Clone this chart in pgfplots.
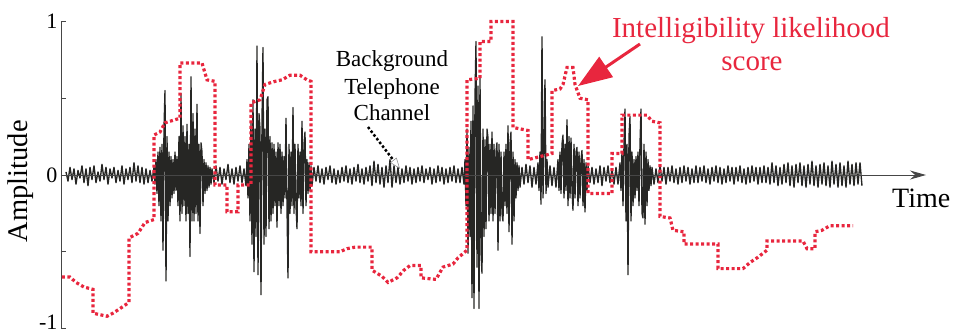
\documentclass[border=0pt]{standalone}
\usepackage{fontspec}
\setmainfont{Liberation Serif}
\usepackage{pgfplots}
\pgfplotsset{compat=1.18}
\usetikzlibrary{arrows.meta}
\definecolor{wave}{RGB}{38,38,36}
\definecolor{score}{RGB}{232,38,62}
\definecolor{axisgray}{RGB}{70,70,70}
\begin{document}
\begin{tikzpicture}
\begin{axis}[
  x=1pt, y=153.5pt, xmin=61, xmax=925, ymin=-1, ymax=1,
  scale only axis, clip=false,
  axis x line=none, axis y line*=left,
  y axis line style={-, draw=axisgray, line width=0.9pt},
  xtick=\empty,
  ytick={-0.5,0,0.5,1},
  yticklabels={,0,,1},
  extra y ticks={-1},
  extra y tick labels={-1},
  extra y tick style={yticklabel style={yshift=6pt}},
  tick align=inside,
  major tick length=5pt,
  ytick style={draw=axisgray, line width=0.9pt},
  yticklabel style={font=\fontsize{22}{22}\selectfont, text=black},
]
% waveform
\addplot[wave, line width=1.35pt, line join=round] coordinates {
(66,0.02)(68,-0.04)(70,0.05)(72,-0.03)(74,0.04)(76,-0.06)(78,0.03)(80,-0.02)(82,0.06)(84,-0.05)
(86,0.04)(88,-0.07)(90,0.05)(92,-0.03)(94,0.06)(96,-0.05)(98,0.02)(100,-0.04)(102,0.07)(104,-0.03)
(106,0.05)(108,-0.06)(110,0.04)(112,-0.02)(114,0.05)(116,-0.05)(118,0.03)(120,-0.04)(122,0.06)(124,-0.06)
(126,0.04)(128,-0.03)(130,0.05)(132,-0.05)(134,0.08)(136,-0.04)(138,0.06)(140,-0.05)(142,0.05)(144,-0.06)
(146,0.04)(148,-0.05)(150,0.03)(152,-0.04)(154,0.05)
(155,-0.06)(156,0.1)(157,-0.12)(158,0.15)(159,-0.2)(160,0.18)(161,-0.3)(162,0.2)(163,-0.49)(164,0.3)
(165,0.55)(166,-0.69)(167,0.25)(168,-0.3)(169,0.15)(170,-0.2)(171,0.12)(172,-0.15)(173,0.1)(174,-0.12)
(175,0.15)(176,-0.1)(177,0.12)(178,-0.2)(179,0.25)(180,-0.3)(181,0.53)(182,-0.25)(183,0.32)(184,-0.2)
(185,0.25)(186,-0.3)(187,0.33)(188,-0.25)(189,0.2)(190,-0.53)(191,0.64)(192,-0.3)(193,0.4)(194,-0.3)
(195,0.3)(196,-0.25)(197,0.46)(198,-0.3)(199,0.2)(200,-0.38)(201,0.21)(202,0.15)(203,-0.2)(204,0.1)
(205,-0.12)(206,0.08)(207,-0.1)(208,0.06)(209,-0.08)(210,0.05)(211,-0.06)
(212,0.04)(214,-0.05)(216,0.06)(218,-0.04)(220,0.05)(222,-0.06)(224,0.04)(226,-0.03)(228,0.07)(230,-0.05)
(232,0.04)(234,-0.06)(236,0.05)(238,-0.04)(240,0.06)(242,-0.05)(244,0.04)(246,-0.07)
(247,0.1)(248,-0.15)(249,0.2)(250,-0.3)(251,0.35)(252,-0.45)(253,0.49)(254,-0.63)(255,0.3)(256,-0.4)
(257,0.84)(258,-0.65)(259,0.4)(260,0.3)(261,-0.78)(262,0.35)(263,0.83)(264,-0.45)(265,0.3)(266,-0.4)
(267,0.49)(268,0.51)(269,-0.35)(270,0.25)(271,-0.3)(272,0.21)(273,-0.25)(274,0.2)(275,-0.2)(276,0.15)
(277,-0.34)(278,0.21)(279,-0.2)(280,0.2)(281,-0.25)(282,0.15)(283,-0.2)(284,0.12)(285,-0.15)(286,0.37)
(287,-0.2)(288,-0.67)(289,0.2)(290,-0.25)(291,0.15)(292,-0.2)(293,0.44)(294,-0.25)(295,0.2)(296,-0.2)
(297,-0.35)(298,0.2)(299,-0.15)(300,0.15)(301,-0.2)(302,0.35)(303,-0.25)(304,0.2)(305,0.28)(306,-0.2)
(307,0.1)(308,-0.12)(309,0.08)(310,-0.1)(311,0.06)(312,-0.07)
(314,0.05)(316,-0.04)(318,0.06)(320,-0.05)(322,0.04)(324,-0.06)(326,0.05)(328,-0.03)(330,0.06)(332,-0.05)
(334,0.04)(336,-0.06)(338,0.03)(340,-0.05)(342,0.05)(344,-0.04)(346,0.06)(348,-0.05)(350,0.04)(352,-0.06)
(354,0.05)(356,-0.04)(358,0.07)(360,-0.05)(362,0.04)(364,-0.06)(366,0.05)(368,-0.04)(370,0.06)(372,-0.07)
(374,0.09)(376,-0.05)(378,0.07)(380,-0.06)(382,0.05)(384,-0.08)(386,0.06)(388,-0.05)(390,0.1)(392,-0.08)
(394,0.06)(396,-0.05)(398,0.05)(400,-0.06)(402,0.04)(404,-0.05)(406,0.06)(408,-0.04)(410,0.05)(412,-0.06)
(414,0.04)(416,-0.05)(418,0.05)(420,-0.04)(422,0.06)(424,-0.05)(426,0.04)(428,-0.03)(430,0.05)(432,-0.06)
(434,0.04)(436,-0.05)(438,0.06)(440,-0.04)(442,0.05)(444,-0.06)(446,0.04)(448,-0.05)(450,0.05)(452,-0.04)
(454,0.06)(456,-0.05)(458,0.04)(460,-0.05)(462,0.05)(464,-0.06)
(465,0.1)(466,-0.2)(467,0.3)(468,-0.51)(469,0.18)(470,-0.4)(471,0.35)(472,-0.8)(473,0.45)(474,-0.87)
(475,0.5)(476,0.87)(477,-0.6)(478,0.58)(479,-0.87)(480,0.64)(481,-0.5)(482,-0.64)(483,0.3)(484,-0.4)
(485,0.23)(486,-0.35)(487,0.3)(488,0.24)(489,-0.3)(490,0.2)(491,-0.25)(492,0.28)(493,-0.3)(494,0.2)
(495,-0.25)(496,0.15)(497,0.21)(498,-0.49)(499,0.2)(500,-0.3)(501,0.15)(502,-0.25)(503,-0.3)(504,0.15)
(505,-0.2)(506,0.2)(507,-0.25)(508,0.32)(509,-0.37)(510,0.2)(511,0.28)(512,-0.45)(513,0.15)(514,-0.3)
(515,0.1)(516,-0.15)(517,0.08)(518,-0.1)(519,0.06)(520,-0.08)
(522,0.05)(524,-0.06)(526,0.07)(528,-0.05)(530,0.06)(532,-0.08)(534,0.05)(536,-0.06)(538,0.08)
(539,-0.1)(540,0.15)(541,-0.19)(542,0.9)(543,-0.15)(544,0.2)(545,0.62)(546,-0.12)(547,0.1)(548,-0.08)
(550,0.06)(552,-0.07)(554,0.05)(556,-0.08)
(558,0.1)(559,-0.1)(560,0.15)(561,-0.12)(562,0.2)(563,0.26)(564,-0.15)(565,0.2)(566,-0.1)(567,0.36)
(568,-0.2)(569,0.25)(570,-0.15)(571,0.24)(572,-0.1)(573,-0.23)(574,0.2)(575,-0.15)(576,0.15)(577,0.18)
(578,-0.2)(579,0.15)(580,-0.15)(581,0.1)(582,0.16)(583,-0.2)(584,0.1)(585,-0.24)(586,0.08)(587,-0.1)
(588,0.06)(590,-0.05)
(592,0.05)(594,-0.06)(596,0.04)(598,-0.05)(600,0.06)(602,-0.07)(604,0.05)(606,-0.04)(608,0.06)(610,-0.05)
(612,0.04)(614,-0.06)(616,0.05)(618,-0.06)(620,0.08)
(621,-0.1)(622,0.15)(623,-0.2)(624,0.2)(625,0.43)(626,-0.3)(627,0.2)(628,-0.65)(629,0.25)(630,0.38)
(631,-0.3)(632,0.15)(633,-0.2)(634,0.1)(635,-0.15)(636,0.12)(637,-0.1)(638,0.15)(639,-0.2)(640,0.2)
(641,0.43)(642,-0.25)(643,-0.28)(644,0.2)(645,-0.32)(646,0.15)(647,-0.2)(648,0.1)(649,-0.1)(650,0.06)
(651,-0.07)
(652,0.05)(654,-0.06)(656,0.04)(658,-0.05)(660,0.06)(662,-0.04)(664,0.05)(666,-0.06)(668,0.05)(670,-0.04)
(672,0.06)(674,-0.05)(676,0.04)(678,-0.06)(680,0.05)(682,-0.05)(684,0.06)(686,-0.04)(688,0.05)(690,-0.06)
(692,0.04)(694,-0.05)(696,0.06)(698,-0.05)(700,0.05)(702,-0.04)(704,0.06)(706,-0.05)(708,0.04)(710,-0.06)
(712,0.05)(714,-0.04)(716,0.06)(718,-0.05)(720,0.05)(722,-0.06)(724,0.04)(726,-0.05)(728,0.06)(730,-0.04)
(732,0.05)(734,-0.06)(736,0.05)(738,-0.04)(740,0.06)(742,-0.05)(744,0.04)(746,-0.06)(748,0.05)(750,-0.05)
(752,0.06)(754,-0.04)(756,0.05)(758,-0.06)(760,0.05)(762,-0.05)(764,0.06)(766,-0.05)(768,0.05)(770,-0.06)
(772,0.08)(774,-0.05)(776,0.06)(778,-0.07)(780,0.05)(782,-0.06)(784,0.07)(786,-0.05)(788,0.08)(790,-0.07)
(792,0.06)(794,-0.08)(796,0.07)(798,-0.05)(800,0.08)(802,-0.07)(804,0.06)(806,-0.08)(808,0.07)(810,-0.06)
(812,0.09)(814,-0.07)(816,0.06)(818,-0.08)(820,0.07)(822,-0.06)(824,0.08)(826,-0.07)(828,0.06)(830,-0.08)
(832,0.09)(834,-0.06)(836,0.07)(838,-0.08)(840,0.08)(842,-0.07)(844,0.06)(846,-0.08)(848,0.09)(850,-0.06)
(852,0.07)(854,-0.07)(856,0.08)(858,-0.06)(860,0.08)(862,-0.07)
};
% intelligibility likelihood score
\addplot[score, line width=3.2pt, dash pattern=on 3pt off 2.5pt] coordinates {
(62,-0.665)(70,-0.665)(76,-0.70)(84,-0.73)(93,-0.745)(93,-0.90)(100,-0.91)(107,-0.92)(113,-0.90)(120,-0.87)
(129,-0.83)(129,-0.41)(138,-0.38)(145,-0.31)(154,-0.29)(154,0.26)(160,0.28)(165,0.34)(180,0.37)(180,0.73)
(202,0.73)(207,0.62)(215,0.61)(215,-0.065)(227,-0.065)(227,-0.24)(238,-0.24)(238,-0.065)(251,-0.065)(251,0.47)
(260,0.49)(265,0.59)(275,0.61)(282,0.62)(290,0.65)(300,0.65)(307,0.62)(311,0.61)(311,-0.50)(340,-0.50)
(347,-0.48)(355,-0.47)(372,-0.47)(372,-0.62)(382,-0.66)(388,-0.70)(397,-0.67)(404,-0.62)(410,-0.59)(421,-0.59)
(421,-0.67)(436,-0.68)(443,-0.60)(453,-0.58)(458,-0.54)(467,-0.49)(467,0.62)(480,0.63)(480,0.87)(491,0.87)
(491,1.0)(513,1.0)(513,0.31)(528,0.29)(528,0.10)(540,0.12)(552,0.14)(552,0.55)(560,0.56)(563,0.59)
(567,0.70)(573,0.70)(575,0.59)(580,0.50)(588,0.49)(588,-0.12)(612,-0.12)(612,0.14)(622,0.14)(622,0.39)
(647,0.39)(652,0.35)(660,0.34)(660,-0.27)(670,-0.28)(673,-0.36)(684,-0.37)(684,-0.45)(718,-0.45)(718,-0.61)
(743,-0.61)(750,-0.57)(757,-0.54)(767,-0.49)(767,-0.43)(803,-0.43)(807,-0.48)(815,-0.48)(815,-0.37)(822,-0.36)
(830,-0.33)(853,-0.33)
};
% x axis with arrow
\draw[axisgray, line width=0.9pt, -{Stealth[length=16pt, width=9pt]}] (axis cs:61,0) -- (axis cs:926,0);
% labels
\node[rotate=90, font=\fontsize{28.5}{30}\selectfont] at (axis cs:21,-0.04) {Amplitude};
\node[anchor=base west, font=\fontsize{28}{30}\selectfont, inner sep=0pt] at (axis cs:892,-0.2085) {Time};
% annotation: background channel
\node[anchor=base, font=\fontsize{23}{25}\selectfont, inner sep=0pt] at (axis cs:392,0.7036) {Background};
\node[anchor=base, font=\fontsize{23}{25}\selectfont, inner sep=0pt] at (axis cs:392,0.5277) {Telephone};
\node[anchor=base, font=\fontsize{23}{25}\selectfont, inner sep=0pt] at (axis cs:392,0.3583) {Channel};
\draw[black, line width=2.5pt, dash pattern=on 2.5pt off 2.2pt,
  -{Triangle[open, length=11pt, width=8pt, line width=0.5pt, color=gray]}]
  (axis cs:368,0.3127) -- (axis cs:400,0.04);
% annotation: score
\node[anchor=base, text=score, font=\fontsize{29}{30}\selectfont, inner sep=0pt] at (axis cs:751,0.899) {Intelligibility likelihood};
\node[anchor=base, text=score, font=\fontsize{29}{30}\selectfont, inner sep=0pt] at (axis cs:752,0.684) {score};
\draw[score, line width=3pt, -{Triangle[length=34pt, width=24pt]}] (axis cs:640,0.8534) -- (axis cs:578,0.5798);
% bounding box corners
\coordinate (bbtl) at (axis cs:0,1.1401);
\coordinate (bbbr) at (axis cs:954,-1.0293);
\end{axis}
\pgfresetboundingbox
\useasboundingbox (bbtl) rectangle (bbbr);
\end{tikzpicture}
\end{document}
